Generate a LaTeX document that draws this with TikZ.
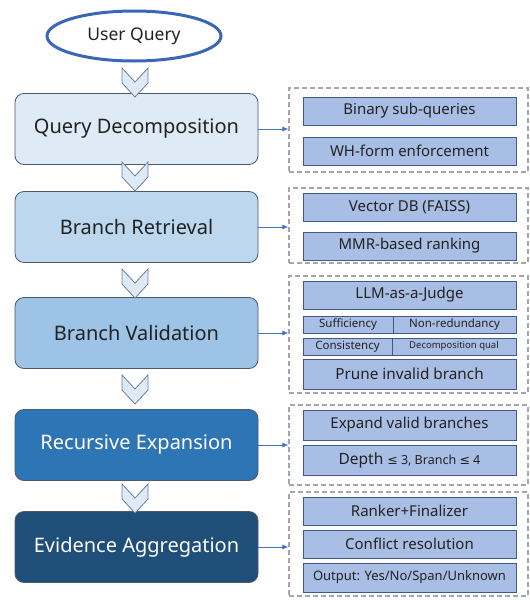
\documentclass[tikz,border=0pt]{standalone}
\usepackage{fontspec}
\setmainfont{Noto Sans}
\newfontfamily\symfont{DejaVu Sans}
\usetikzlibrary{arrows.meta,shapes.geometric}
\definecolor{bxone}{HTML}{DEEBF7}
\definecolor{bxtwo}{HTML}{BDD7EE}
\definecolor{bxthree}{HTML}{9DC3E6}
\definecolor{bxfour}{HTML}{2E75B6}
\definecolor{bxfive}{HTML}{1F4E79}
\definecolor{bxedge}{HTML}{4A5A70}
\definecolor{subfill}{HTML}{A9BEE4}
\definecolor{subedge}{HTML}{3F5A8A}
\definecolor{grpedge}{HTML}{A6A6A6}
\definecolor{arrblue}{HTML}{4472C4}
\definecolor{ellblue}{HTML}{3A66B8}
\definecolor{chevedge}{HTML}{6A7F99}
\definecolor{txtdark}{HTML}{222222}
\newcommand\chevr[2]{%
  \draw[fill=bxone,draw=chevedge,line width=0.8pt,line join=miter]
    (#1-13,#2) -- (#1,#2+14) -- (#1+13,#2) -- (#1+13,#2+15) -- (#1,#2+29) -- (#1-13,#2+15) -- cycle;}
\begin{document}
\begin{tikzpicture}[x=1pt,y=-1pt,
  mainbox/.style={draw=bxedge,line width=0.8pt,rounded corners=9pt,minimum width=243pt,minimum height=71pt,font=\fontsize{20}{24}\selectfont,text=txtdark,inner sep=0pt},
  subbox/.style={draw=subedge,fill=subfill,line width=0.9pt,minimum width=213pt,minimum height=28pt,font=\fontsize{15}{17}\selectfont,text=txtdark,inner sep=0pt},
  halfbox/.style={draw=subedge,fill=subfill,line width=0.9pt,minimum height=17pt,font=\fontsize{11.5}{13}\selectfont,text=txtdark,inner sep=0pt},
  grp/.style={draw=grpedge,line width=1.4pt,dash pattern=on 5pt off 3pt,minimum width=239pt,inner sep=0pt},
  conn/.style={draw=arrblue,line width=0.6pt,-{Latex[length=6pt,width=5pt]}}
]
\useasboundingbox (0,0) rectangle (530,600);
\fill[white] (0,0) rectangle (530,600);

% user query
\node[draw=ellblue,line width=3pt,fill=white,ellipse,minimum width=174pt,minimum height=50pt,font=\fontsize{17.5}{20}\selectfont,text=txtdark] (uq) at (134,36) {User Query};

% main boxes
\node[mainbox,fill=bxone] (qd) at (136.5,129) {Query Decomposition};
\node[mainbox,fill=bxtwo] (br) at (136.5,227) {Branch Retrieval};
\node[mainbox,fill=bxthree] (bv) at (136.5,333) {Branch Validation};
\node[mainbox,fill=bxfour,text=white] (re) at (136.5,445) {Recursive Expansion};
\node[mainbox,fill=bxfive,text=white!88!bxone] (ea) at (136.5,547) {Evidence Aggregation};

% chevrons
\chevr{135}{68}
\chevr{135}{162}
\chevr{135}{269}
\chevr{135}{375}
\chevr{135}{484}

% groups
\node[grp,minimum height=84pt] (g1) at (408.5,130) {};
\node[grp,minimum height=75pt] (g2) at (408.5,225.5) {};
\node[grp,minimum height=117pt] (g3) at (408.5,334.5) {};
\node[grp,minimum height=80pt] (g4) at (408.5,445) {};
\node[grp,minimum height=104pt] (g5) at (408.5,544) {};

% sub items
\node[subbox] (s11) at (409.5,111) {Binary sub-queries};
\node[subbox] (s12) at (409.5,151) {WH-form enforcement};
\node[subbox] (s21) at (409.5,207.5) {Vector DB (FAISS)};
\node[subbox] (s22) at (409.5,246) {MMR-based ranking};
\node[subbox] (s31) at (409.5,295) {LLM-as-a-Judge};
\node[halfbox,minimum width=90pt] (s32) at (348,324.5) {Sufficiency};
\node[halfbox,minimum width=123pt] (s33) at (454.5,324.5) {Non-redundancy};
\node[halfbox,minimum width=89pt] (s34) at (347.5,346.5) {Consistency};
\node[halfbox,minimum width=124pt,font=\fontsize{9.5}{11}\selectfont] (s35) at (454,346.5) {Decomposition qual};
\node[subbox,minimum height=30pt,font=\fontsize{15.3}{17}\selectfont] (s36) at (409.5,374) {Prune invalid branch};
\node[subbox,minimum height=30pt] (s41) at (409.5,425) {Expand valid branches};
\node[subbox,minimum height=30pt] (s42) at (409.5,460) {{\fontsize{15.5}{17}\selectfont Depth} {\fontsize{12.5}{14}\selectfont{\symfont ≤} 3, Branch {\symfont ≤} 4}};
\node[subbox] (s51) at (409.5,511) {Ranker+Finalizer};
\node[subbox] (s52) at (409.5,544) {Conflict resolution};
\node[subbox,minimum height=29pt,font=\fontsize{13}{15}\selectfont] (s53) at (409.5,577.5) {Output: Yes/No/Span/Unknown};

% connectors
\draw[conn] (qd.east) -- (g1.west |- qd.east);
\draw[conn] (br.east) -- (g2.west |- br.east);
\draw[conn] (bv.east) -- (g3.west |- bv.east);
\draw[conn] (re.east) -- (g4.west |- re.east);
\draw[conn] (ea.east) -- (g5.west |- ea.east);
\end{tikzpicture}
\end{document}
